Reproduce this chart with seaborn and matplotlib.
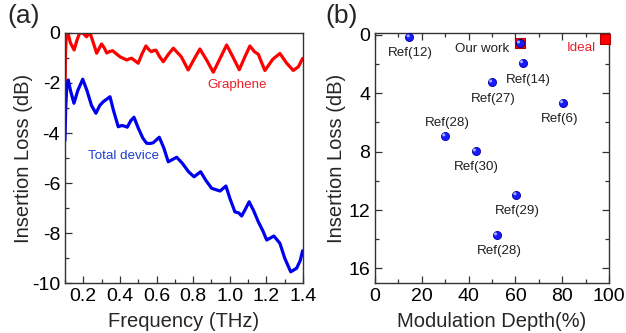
import matplotlib
matplotlib.use("Agg")
import matplotlib.pyplot as plt
import matplotlib.transforms as mtrans
import seaborn as sns
import pandas as pd
from matplotlib.ticker import MultipleLocator

# ---------------- data ----------------
red_f = [0.100, 0.103, 0.108, 0.118, 0.130, 0.150, 0.165, 0.180, 0.197, 0.210, 0.218,
         0.228, 0.237, 0.255, 0.273, 0.288, 0.300, 0.315, 0.328, 0.345, 0.360, 0.400,
         0.437, 0.450, 0.464, 0.480, 0.500, 0.520, 0.542, 0.560, 0.573, 0.585, 0.597,
         0.617, 0.637, 0.665, 0.692, 0.735, 0.773, 0.805, 0.837, 0.875, 0.910, 0.945,
         0.983, 1.020, 1.052, 1.080, 1.110, 1.135, 1.156, 1.175, 1.192, 1.235, 1.274,
         1.310, 1.347, 1.375, 1.398]
red_db = [-2.5, -0.8, 0.0, -0.05, -0.4, -0.68, -0.3, 0.0, 0.0, -0.1, -0.15,
          -0.05, 0.0, -0.4, -0.81, -0.6, -0.44, -0.6, -0.8, -0.74, -0.71, -0.95,
          -1.08, -1.04, -1.01, -1.1, -1.21, -0.85, -0.52, -0.68, -0.75, -0.7, -0.69,
          -0.95, -1.15, -0.85, -0.61, -0.95, -1.48, -1.05, -0.64, -1.1, -1.57, -1.05,
          -0.48, -1.0, -1.47, -1.0, -0.52, -0.75, -0.85, -1.2, -1.5, -1.05, -0.82,
          -1.2, -1.5, -1.35, -1.02]

blue_f = [0.100, 0.104, 0.110, 0.118, 0.130, 0.149, 0.170, 0.197, 0.220, 0.245, 0.269,
          0.290, 0.309, 0.346, 0.365, 0.391, 0.410, 0.428, 0.440, 0.460, 0.477, 0.500,
          0.525, 0.546, 0.565, 0.582, 0.615, 0.640, 0.664, 0.690, 0.710, 0.740, 0.775,
          0.805, 0.841, 0.870, 0.901, 0.930, 0.947, 0.979, 1.000, 1.028, 1.050, 1.065,
          1.085, 1.106, 1.130, 1.156, 1.180, 1.202, 1.241, 1.274, 1.300, 1.333, 1.365,
          1.385, 1.398]
blue_db = [-4.3, -3.0, -2.1, -1.88, -2.3, -2.81, -2.3, -1.85, -2.3, -2.9, -3.21,
           -2.9, -2.75, -2.55, -3.1, -3.75, -3.7, -3.73, -3.77, -3.5, -3.37, -3.8,
           -4.2, -4.41, -4.42, -4.39, -4.17, -4.6, -5.15, -5.05, -4.97, -5.2, -5.55,
           -5.75, -5.55, -5.9, -6.21, -6.28, -6.32, -6.12, -6.6, -7.15, -7.2, -7.32,
           -7.05, -6.75, -7.1, -7.55, -7.9, -8.28, -8.12, -8.41, -9.0, -9.55, -9.41,
           -9.1, -8.71]

ref_labels = ["Ref(12)", "Our work", "Ref(14)", "Ref(27)", "Ref(6)", "Ref(28)",
              "Ref(30)", "Ref(29)", "Ref(28)"]
ref_depth = [14.7, 61.8, 63.1, 49.9, 80.2, 29.9, 43.0, 60.3, 52.0]
ref_loss = [0.16, 0.58, 1.93, 3.25, 4.67, 6.94, 7.97, 10.97, 13.72]
label_x = [15.0, 45.6, 65.5, 50.6, 79.1, 30.9, 43.4, 60.8, 53.0]
label_y = [1.25, 0.98, 3.07, 4.39, 5.8, 6.03, 9.06, 12.1, 14.8]

square_labels = ["Our work", "Ideal"]
square_depth = [61.8, 98.3]
square_loss = [0.58, 0.27]

freq_ticks = [0.2, 0.4, 0.6, 0.8, 1.0, 1.2, 1.4]
freq_ticklabels = ["0.2", "0.4", "0.6", "0.8", "1.0", "1.2", "1.4"]
loss_a_ticks = [0, -2, -4, -6, -8, -10]
depth_ticks = [0, 20, 40, 60, 80, 100]
loss_b_ticks = [0, 4, 8, 12, 16]

# ---------------- style ----------------
sns.set_style("ticks")
plt.rcParams["font.family"] = ["Liberation Sans", "DejaVu Sans"]

fig = plt.figure(figsize=(6.26, 3.33), dpi=100)
axa = fig.add_axes([0.1038, 0.150, 0.3802, 0.751])
axb = fig.add_axes([0.599, 0.150, 0.374, 0.751])

RED = "#ff0000"
BLUE = "#0000f0"
SPINE = "#333333"

# ---------------- panel (a) ----------------
df_r = pd.DataFrame({"f": red_f, "db": red_db})
df_b = pd.DataFrame({"f": blue_f, "db": blue_db})
sns.lineplot(data=df_r, x="f", y="db", ax=axa, color=RED, lw=2.3, sort=False,
             estimator=None, solid_joinstyle="round", solid_capstyle="round")
sns.lineplot(data=df_b, x="f", y="db", ax=axa, color=BLUE, lw=2.3, sort=False,
             estimator=None, solid_joinstyle="round", solid_capstyle="round")
axa.set_xlim(0.1, 1.4)
axa.set_ylim(-10, 0)
axa.xaxis.set_minor_locator(MultipleLocator(0.1))
axa.yaxis.set_minor_locator(MultipleLocator(1))
axa.set_xticks(freq_ticks)
axa.set_xticklabels(freq_ticklabels)
axa.set_yticks(loss_a_ticks)
axa.set_yticklabels([str(v) for v in loss_a_ticks])
axa.tick_params(which="both", direction="in", labelsize=14, colors=SPINE, labelcolor="black")
axa.tick_params(which="major", length=5, width=0.9)
axa.tick_params(which="minor", length=3, width=0.9)
axa.set_xlabel("Frequency (THz)", fontsize=14.5, labelpad=5)
axa.set_ylabel("Insertion Loss (dB)", fontsize=14.5, labelpad=-1)
axa.text(1.04, -2.08, "Graphene", color="#e8202a", fontsize=9.6, ha="center", va="center")
axa.text(0.42, -4.92, "Total device", color="#1f3fd0", fontsize=9.6, ha="center", va="center")

# ---------------- panel (b) ----------------
df_sq = pd.DataFrame({"depth": square_depth, "loss": square_loss, "name": square_labels})
df_ref = pd.DataFrame({"depth": ref_depth, "loss": ref_loss, "name": ref_labels})
sns.scatterplot(data=df_sq, x="depth", y="loss", ax=axb, marker="s", s=55,
                color=RED, edgecolor="#b00000", linewidth=0.8, zorder=3, clip_on=False)
sns.scatterplot(data=df_ref, x="depth", y="loss", ax=axb, marker="o", s=34,
                color="#1a1aff", edgecolor="#0000a0", linewidth=0.6, zorder=4, clip_on=False)
# sphere highlight
sns.scatterplot(data=df_ref, x="depth", y="loss", ax=axb, marker="o", s=5,
                color="#9ab0ff", edgecolor="none", linewidth=0, zorder=5, clip_on=False)
hl = axb.collections[-1]
hl.set_transform(hl.get_transform() + mtrans.ScaledTranslation(-1.2/100, 1.2/100, fig.dpi_scale_trans))

for name, lx, ly in zip(ref_labels, label_x, label_y):
    axb.text(lx, ly, name, fontsize=9.6, ha="center", va="center", color="#202020")
axb.text(88.3, 0.91, "Ideal", fontsize=9.6, ha="center", va="center", color="#e8202a")

axb.set_xlim(0, 100)
axb.set_ylim(17, -0.12)
axb.xaxis.set_minor_locator(MultipleLocator(10))
axb.yaxis.set_minor_locator(MultipleLocator(2))
axb.set_xticks(depth_ticks)
axb.set_yticks(loss_b_ticks)
axb.tick_params(which="both", direction="in", labelsize=14, colors=SPINE, labelcolor="black",
                top=True, right=True)
axb.tick_params(which="major", length=5, width=0.9)
axb.tick_params(which="minor", length=3, width=0.9)
axb.set_xlabel("Modulation Depth(%)", fontsize=14.5, labelpad=5)
axb.set_ylabel("Insertion Loss (dB)", fontsize=14.5, labelpad=2)

for ax in (axa, axb):
    for sp in ax.spines.values():
        sp.set_visible(True)
        sp.set_color(SPINE)
        sp.set_linewidth(1.0)
    leg = ax.get_legend()
    if leg is not None:
        leg.remove()

fig.text(0.011, 0.952, "(a)", fontsize=19, ha="left", va="center")
fig.text(0.519, 0.952, "(b)", fontsize=19, ha="left", va="center")

fig.savefig("out.png", dpi=100, facecolor="white")
